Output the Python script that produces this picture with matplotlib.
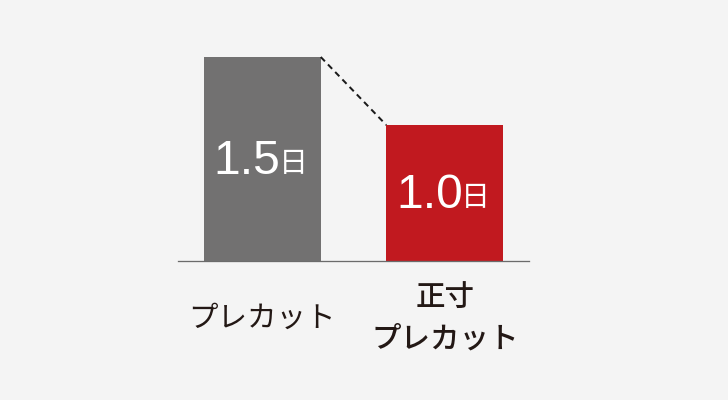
import matplotlib
matplotlib.use("Agg")
import matplotlib.pyplot as plt

# ---- data ----
categories = ["プレカット", "正寸\nプレカット"]
values = [1.5, 1.0]
value_labels = ["1.5", "1.0"]
unit = "日"

# ---- style ----
bg = "#f4f4f4"
bar_colors = ["#727171", "#c1191f"]
text_dark = "#231815"
label_weights = ["normal", "medium"]

DPI = 72
fig = plt.figure(figsize=(728 / DPI, 400 / DPI), dpi=DPI, facecolor=bg)
ax = fig.add_axes([178 / 728, (400 - 261) / 400, 351 / 728, 204 / 400])
ax.set_facecolor(bg)

x = list(range(len(values)))
w = 117 / 182.5
ax.bar(x, values, width=w, color=bar_colors, zorder=2)

ax.set_xlim(-0.4616, 1.4616)
ax.set_ylim(0, max(values))
for s in ["top", "right", "left"]:
    ax.spines[s].set_visible(False)
ax.spines["bottom"].set_color("#6b6b6b")
ax.spines["bottom"].set_linewidth(1.3)
ax.set_xticks([])
ax.set_yticks([])

# dashed connector
ax.plot([x[0] + w / 2, x[1] - w / 2], [values[0], values[1]], color="#1a1a1a",
        lw=2.0, dashes=(3, 2.2), clip_on=False, zorder=3)

num_font = "Liberation Sans"
cjk = ["Noto Sans CJK JP", "DejaVu Sans"]

for xi, v, lab in zip(x, values, value_labels):
    ax.annotate(lab, xy=(xi, v / 2), xytext=(18.5, -15.5), textcoords="offset points",
                ha="right", va="baseline", color="white", fontsize=48,
                family=num_font, annotation_clip=False)
    ax.annotate(unit, xy=(xi, v / 2), xytext=(16.5, -13.5), textcoords="offset points",
                ha="left", va="baseline", color="white", fontsize=29,
                family=cjk, annotation_clip=False)

for xi, cat, fw in zip(x, categories, label_weights):
    ax.annotate(cat, xy=(xi, 0), xytext=(0, -57.5), textcoords="offset points",
                ha="center", va="center", color=text_dark, fontsize=29.5,
                family=cjk, fontweight=fw, linespacing=1.42,
                annotation_clip=False)

fig.savefig("out.png", dpi=DPI, facecolor=bg)
